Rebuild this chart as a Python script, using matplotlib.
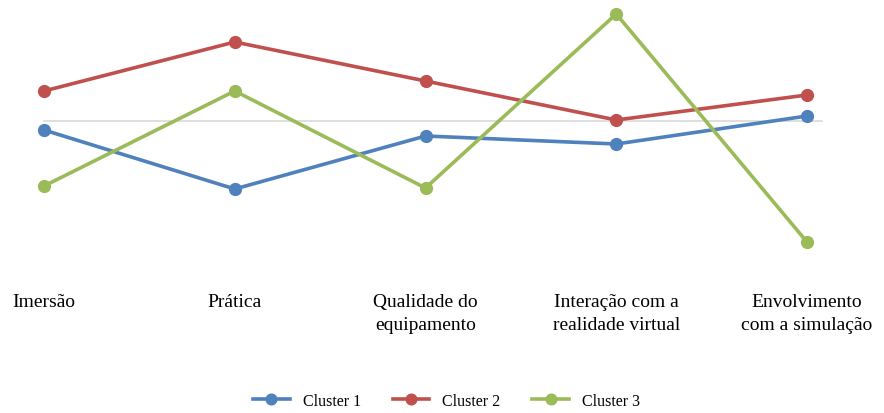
import matplotlib.pyplot as plt

categorias = ["Imersão", "Prática", "Qualidade do\nequipamento",
              "Interação com a\nrealidade virtual", "Envolvimento\ncom a simulação"]
cluster1 = [-0.09, -0.68, -0.15, -0.23, 0.05]
cluster2 = [0.30, 0.79, 0.40, 0.01, 0.26]
cluster3 = [-0.65, 0.30, -0.67, 1.07, -1.21]

series = [("Cluster 1", cluster1, "#4F81BD"),
          ("Cluster 2", cluster2, "#C0504D"),
          ("Cluster 3", cluster3, "#9BBB59")]

plt.rcParams["font.family"] = ["Liberation Serif", "DejaVu Serif"]

fig = plt.figure(figsize=(8.84, 4.14), dpi=100)
ax = fig.add_axes([44 / 884, 134 / 414, 763 / 884, 280 / 414])

x = list(range(len(categorias)))
ax.plot([x[0], x[-1] + 0.08], [0, 0], color="#D9D9D9", lw=1.2, zorder=1, clip_on=False)

for nome, vals, cor in series:
    ax.plot(x, vals, color=cor, lw=2.6, marker="o", ms=8.5, label=nome,
            clip_on=False, zorder=3)

ax.set_xlim(0, 4)
ax.set_ylim(-1.58, 1.22)
ax.set_xticks(x)
ax.set_xticklabels(categorias, fontsize=14, linespacing=1.45)
ax.tick_params(axis="x", length=0, pad=10)
ax.set_yticks([])
for s in ax.spines.values():
    s.set_visible(False)

fig.legend(loc="lower center", bbox_to_anchor=(0.505, -0.025), ncol=3, frameon=False,
           fontsize=11.5, handlelength=2.3, columnspacing=2.0, markerscale=0.9)

fig.savefig("out.png", dpi=100)
